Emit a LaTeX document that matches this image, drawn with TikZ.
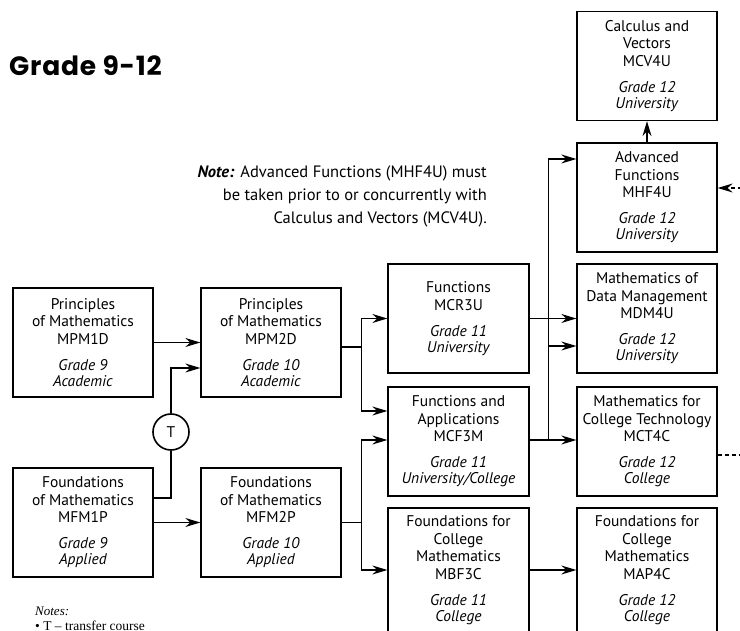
\documentclass[tikz,border=0pt]{standalone}
\usepackage{fontspec}
\setmainfont{Liberation Serif}
\setsansfont{PT Sans}
\newfontfamily\titlefont[LetterSpace=3]{Poppins}
\usetikzlibrary{arrows.meta}
\tikzset{
  course/.style={draw, line width=1.3pt, minimum width=140pt, minimum height=109pt,
    align=center, inner sep=0pt, font=\sffamily\fontsize{15.5}{17.5}\selectfont},
  tall/.style={minimum height=124pt},
  tip/.style={-{Stealth[length=15pt,width=9pt,inset=5pt]}},
  arr/.style={line width=1.3pt, tip},
  ln/.style={line width=1.3pt},
  dsh/.style={line width=1.3pt, dash pattern=on 4pt off 3pt},
}
\newcommand\crs[4]{#1\\#2\\[8.5pt]\textit{#3}\\[-1.5pt]\textit{#4}}
\begin{document}
\begin{tikzpicture}[x=1pt,y=-1pt]
\useasboundingbox (0,0) rectangle (740,631);
\clip (0,0) rectangle (740,631);

% title
\node[anchor=base west, inner sep=0pt, font=\titlefont\bfseries\fontsize{26.5}{30}\selectfont] (title) at (9,76) {Grade 9-12};

% note
\node[anchor=north east, align=right, inner sep=0pt, font=\sffamily\fontsize{16.5}{23}\selectfont] (note) at (487,166)
  {\textbf{\textit{Note:}} Advanced Functions (MHF4U) must\\be taken prior to or concurrently with\\Calculus and Vectors (MCV4U).};

% courses
\node[course] (mpmi)  at (83,342.5)  {\crs{Principles\\of Mathematics}{MPM1D}{Grade 9}{Academic}};
\node[course] (mpmii) at (271,342.5) {\crs{Principles\\of Mathematics}{MPM2D}{Grade 10}{Academic}};
\node[course] (mfmi)  at (83,522.5)  {\crs{Foundations\\of Mathematics}{MFM1P}{Grade 9}{Applied}};
\node[course] (mfmii) at (271,522.5) {\crs{Foundations\\of Mathematics}{MFM2P}{Grade 10}{Applied}};
\node[course, minimum width=141pt] (mcr) at (458.5,318.5) {\crs{Functions}{MCR3U}{Grade 11}{University}};
\node[course, minimum width=141pt] (mcf) at (458.5,441.5) {\crs{Functions and\\Applications}{MCF3M}{Grade 11}{University/College}};
\node[course, tall, minimum width=141pt] (mbf) at (458.5,570) {\crs{Foundations for\\College\\Mathematics}{MBF3C}{Grade 11}{College}};
\node[course] (mdm) at (647,318.5) {\crs{Mathematics of\\Data Management}{MDM4U}{Grade 12}{University}};
\node[course] (mct) at (647,441.5) {\crs{Mathematics for\\College Technology}{MCT4C}{Grade 12}{College}};
\node[course, tall] (map) at (647,570) {\crs{Foundations for\\College\\Mathematics}{MAP4C}{Grade 12}{College}};
\node[course] (mhf) at (647,197.5) {\crs{Advanced\\Functions}{MHF4U}{Grade 12}{University}};
\node[course] (mcv) at (647,66) {\crs{Calculus and\\Vectors}{MCV4U}{Grade 12}{University}};

% transfer
\node[draw, circle, line width=1.6pt, minimum size=36pt, inner sep=0pt,
  font=\sffamily\fontsize{15.5}{17}\selectfont] (T) at (171,432) {T};

% connectors
\draw[arr] (mpmi.east) -- (mpmii.west);
\draw[arr] (mfmi.east) -- (mfmii.west);
\draw[ln] ([yshift=24.5pt]mfmi.east) -| (T.south);
\draw[arr] (T.north) |- ([yshift=-25.5pt]mpmii.west);

\draw[ln] ([yshift=-4.5pt]mpmii.east) -- ++(20,0) coordinate (ja);
\draw[arr] (ja) |- (mcr.west);
\draw[arr] (ja) |- ([yshift=30.5pt]mcf.west);

\draw[ln] (mfmii.east) -- ++(20,0) coordinate (jb);
\draw[arr] (jb) |- ([yshift=1.5pt]mcf.west);
\draw[arr] (jb) |- (mbf.west);

\draw[arr] (mcr.east) -- (mdm.west);
\draw[arr] ([yshift=1.5pt]mcf.east) -- ([yshift=1.5pt]mct.west);
\draw[ln] ([yshift=1.5pt]mcf.east) -- ++(19,0) coordinate (jc);
\draw[arr] (jc) |- ([yshift=38.5pt]mhf.west);
\draw[arr] (jc |- 0,346) coordinate (jd) -- (mdm.west |- jd);
\draw[arr] (mhf.north) -- (mcv.south);
\draw[arr] (mbf.east) -- (map.west);

\coordinate (ra) at (742,188);
\coordinate (rb) at (742,455);
\draw[dsh, tip] (ra) -- (mhf.east |- ra);
\draw[dsh] (mct.east |- rb) -- (rb);

% notes
\node[anchor=base west, inner sep=0pt, font=\fontsize{13}{15}\selectfont\itshape] (notes) at (35,615) {Notes:};
\node[anchor=base west, inner sep=0pt, font=\fontsize{13.5}{15}\selectfont] (noteT) at (35,630) {\textbullet\ T -- transfer course};
\end{tikzpicture}
\end{document}
